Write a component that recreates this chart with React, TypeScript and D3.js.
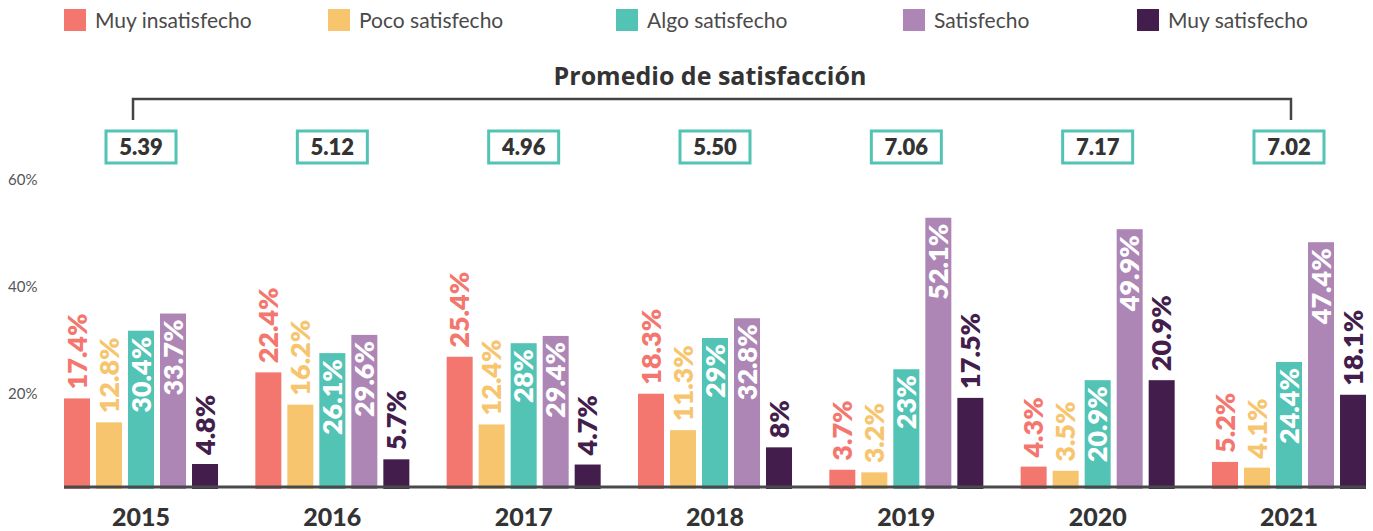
import React, { useEffect, useRef } from 'react';
import * as d3 from 'd3';

const years = ['2015', '2016', '2017', '2018', '2019', '2020', '2021'];
const series = ['Muy insatisfecho', 'Poco satisfecho', 'Algo satisfecho', 'Satisfecho', 'Muy satisfecho'];
const colors = ['#F4776F', '#F7C56E', '#52C3B4', '#AD86B6', '#431E4D'];
const muyInsatisfecho = [17.4, 22.4, 25.4, 18.3, 3.7, 4.3, 5.2];
const pocoSatisfecho = [12.8, 16.2, 12.4, 11.3, 3.2, 3.5, 4.1];
const algoSatisfecho = [30.4, 26.1, 28, 29, 23, 20.9, 24.4];
const satisfecho = [33.7, 29.6, 29.4, 32.8, 52.1, 49.9, 47.4];
const muySatisfecho = [4.8, 5.7, 4.7, 8, 17.5, 20.9, 18.1];
const promedio = ['5.39', '5.12', '4.96', '5.50', '7.06', '7.17', '7.02'];
const yTicks = [20, 40, 60];
const legendX = [64, 328, 616, 903, 1137];
// series whose labels sit inside the bar in white
const insideLabel = [false, false, true, true, false];

const values = [muyInsatisfecho, pocoSatisfecho, algoSatisfecho, satisfecho, muySatisfecho];

const App = () => {
  const ref = useRef<SVGSVGElement>(null);

  useEffect(() => {
    const svg = d3.select(ref.current);
    svg.selectAll('*').remove();
    const font = 'Lato, "Open Sans", sans-serif';

    const x0 = d3.scaleBand().domain(years).range([64, 1366]).paddingInner(0.195).paddingOuter(0);
    const x1 = d3.scaleBand().domain(series).range([0, x0.bandwidth()]).paddingInner(0.1875).paddingOuter(0);
    const y = d3.scaleLinear().domain([0, 60]).range([489, 176.6]);
    // tick labels in the original are spaced a little wider than the bars
    const yLab = d3.scaleLinear().domain([0, 60]).range([500, 180]);

    // legend
    const leg = svg.append('g');
    series.forEach((s, i) => {
      leg.append('rect').attr('x', legendX[i]).attr('y', 9).attr('width', 22).attr('height', 22).attr('fill', colors[i]);
      leg.append('text').attr('x', legendX[i] + 31).attr('y', 27.5)
        .attr('font-family', font).attr('font-size', 21).attr('fill', '#4a4a4a').text(s);
    });

    // y tick labels
    svg.append('g').selectAll('text').data(yTicks).enter().append('text')
      .attr('x', 8).attr('y', d => yLab(d)).attr('dy', '0.35em')
      .attr('font-family', font).attr('font-size', 15).attr('fill', '#555').text(d => d + '%');

    // bars
    years.forEach((yr, gi) => {
      const g = svg.append('g').attr('transform', `translate(${x0(yr)},0)`);
      series.forEach((s, si) => {
        const v = values[si][gi];
        const bx = x1(s)!;
        const cx = bx + x1.bandwidth() / 2;
        g.append('rect').attr('x', bx).attr('y', y(v)).attr('width', x1.bandwidth())
          .attr('height', y(0) - y(v)).attr('fill', colors[si]);
        const inside = insideLabel[si];
        const ly = inside ? y(v) + 6 : y(v) - 9;
        g.append('text')
          .attr('transform', `translate(${cx},${ly}) rotate(-90)`)
          .attr('dy', '0.36em')
          .attr('text-anchor', inside ? 'end' : 'start')
          .attr('font-family', font).attr('font-weight', 800).attr('font-size', 27)
          .attr('fill', inside ? '#fff' : colors[si])
          .text(v + '%');
      });
      // year label
      svg.append('text').attr('x', x0(yr)! + x0.bandwidth() / 2).attr('y', 526)
        .attr('text-anchor', 'middle').attr('font-family', font).attr('font-weight', 900)
        .attr('font-size', 25).attr('fill', '#333').text(yr);
      // average box
      const cx = x0(yr)! + x0.bandwidth() / 2;
      svg.append('rect').attr('x', cx - 35).attr('y', 131).attr('width', 70).attr('height', 32)
        .attr('fill', '#fff').attr('stroke', '#52C3B4').attr('stroke-width', 3);
      svg.append('text').attr('x', cx).attr('y', 147).attr('dy', '0.36em').attr('text-anchor', 'middle')
        .attr('font-family', font).attr('font-weight', 800).attr('font-size', 22).attr('fill', '#333')
        .text(promedio[gi]);
    });

    // baseline
    svg.append('line').attr('x1', 64).attr('x2', 1366).attr('y1', 487).attr('y2', 487)
      .attr('stroke', '#4a4a4a').attr('stroke-width', 3);

    // bracket + title
    const c0 = x0(years[0])! + x0.bandwidth() / 2 - 8;
    const c1 = x0(years[years.length - 1])! + x0.bandwidth() / 2 + 2;
    svg.append('path').attr('d', `M${c0},120V99H${c1}V120`).attr('fill', 'none')
      .attr('stroke', '#444').attr('stroke-width', 2.5);
    svg.append('text').attr('x', 710).attr('y', 76).attr('dy', '0.36em').attr('text-anchor', 'middle')
      .attr('font-family', '"Open Sans", Lato, sans-serif').attr('font-weight', 700).attr('font-size', 25)
      .attr('fill', '#333').text('Promedio de satisfacción');
  }, []);

  return (
    <svg ref={ref} width={1373} height={531}
      style={{ position: 'absolute', left: 0, top: 0, background: '#fff' }} />
  );
};

export default App;
